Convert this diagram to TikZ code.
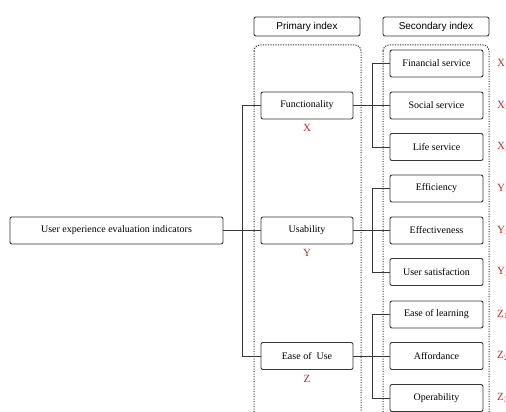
\documentclass[tikz,border=0pt]{standalone}
\usepackage{fontspec}
\setmainfont{Liberation Serif}
\setsansfont{Liberation Sans}
\definecolor{lred}{RGB}{196,40,40}
\definecolor{lgray}{RGB}{55,55,55}
\begin{document}
\begin{tikzpicture}[x=1pt,y=-1pt,
  box/.style={draw=lgray, line width=0.9pt, rounded corners=2pt, minimum height=27pt, inner sep=0pt, font=\fontsize{10}{12}\selectfont},
  pbox/.style={box, minimum width=92pt},
  sbox/.style={box, minimum width=93pt},
  hbox/.style={draw=lgray, line width=0.9pt, rounded corners=2pt, minimum width=106pt, minimum height=19pt, inner sep=0pt, font=\sffamily\fontsize{10}{12}\selectfont},
  frame/.style={draw=lgray, line width=1pt, dash pattern=on 1.2pt off 1.3pt, rounded corners=6pt},
  conn/.style={draw=lgray, line width=0.9pt},
  lab/.style={text=lred, font=\fontsize{11}{13}\selectfont, inner sep=0pt}]
\useasboundingbox (0,0) rectangle (506,412);
\clip (0,0) rectangle (506,412);
% headers
\node[hbox] (hp) at (307,26.5) {Primary index};
\node[hbox] (hs) at (436,26.5) {Secondary index};
% dotted frames
\draw[frame] (254,45) rectangle (361,440);
\draw[frame] (383,45) rectangle (489,440);
% root
\node[box, minimum width=213pt] (root) at (116.5,230.5) {User experience evaluation indicators};
% primary
\node[pbox] (func) at (307,105.5) {Functionality};
\node[pbox] (usab) at (307,230.5) {Usability};
\node[pbox] (ease) at (307,356) {Ease of\ \ Use};
\node[lab] (lx) at (307,128) {X};
\node[lab] (ly) at (307,253) {Y};
\node[lab] (lz) at (307,379) {Z};
% secondary
\node[sbox] (fin) at (436.5,63.5) {Financial service};
\node[sbox] (soc) at (436.5,105.5) {Social service};
\node[sbox] (life) at (436.5,147) {Life service};
\node[sbox] (effi) at (436.5,188.5) {Efficiency};
\node[sbox] (effe) at (436.5,230.5) {Effectiveness};
\node[sbox] (usat) at (436.5,272) {User satisfaction};
\node[sbox] (lear) at (436.5,314.5) {Ease of learning};
\node[sbox] (aff) at (436.5,356) {Affordance};
\node[sbox] (oper) at (436.5,398) {Operability};
% secondary labels
\node[lab, anchor=west] (x1) at (497,63.5) {X$_1$};
\node[lab, anchor=west] (x2) at (497,105.5) {X$_2$};
\node[lab, anchor=west] (x3) at (497,147) {X$_3$};
\node[lab, anchor=west] (y1) at (497,188.5) {Y$_1$};
\node[lab, anchor=west] (y2) at (497,230.5) {Y$_2$};
\node[lab, anchor=west] (y3) at (497,272) {Y$_3$};
\node[lab, anchor=west] (z1) at (497,314.5) {Z$_1$};
\node[lab, anchor=west] (z2) at (497,356) {Z$_2$};
\node[lab, anchor=west] (z3) at (497,398) {Z$_3$};
% connectors root -> primary
\draw[conn] (root.east) -- (usab.west);
\draw[conn] (func.west) -- ++(-18,0) |- (ease.west);
% primary -> secondary
\draw[conn] (func.east) -- (soc.west);
\draw[conn] (fin.west) -- ++(-17,0) |- (life.west);
\draw[conn] (usab.east) -- (effe.west);
\draw[conn] (effi.west) -- ++(-17,0) |- (usat.west);
\draw[conn] (ease.east) -- (aff.west);
\draw[conn] (lear.west) -- ++(-17,0) |- (oper.west);
\end{tikzpicture}
\end{document}
